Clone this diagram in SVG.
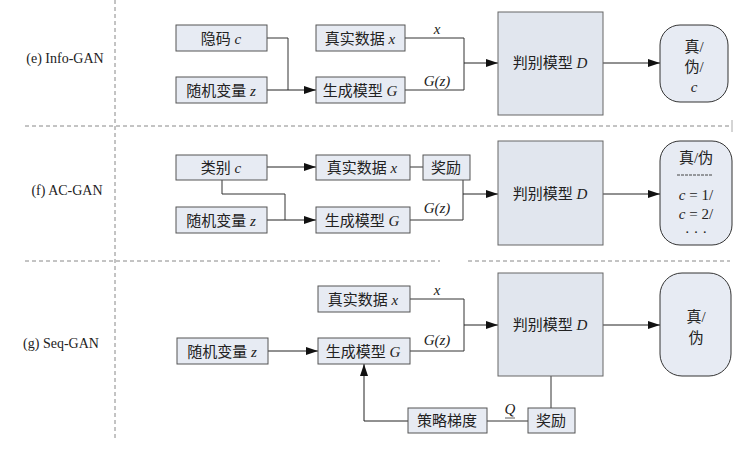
<svg xmlns="http://www.w3.org/2000/svg" width="750" height="453" viewBox="0 0 750 453">
<defs>
<marker id="arr" viewBox="0 0 12 8" refX="12" refY="4" markerWidth="12" markerHeight="8" markerUnits="userSpaceOnUse" orient="auto">
<path d="M0,0 L12,4 L0,8 Z" fill="#111"/>
</marker>
<style>
.box{fill:#e7ebf3;stroke:#555;stroke-width:1}
.dbox{fill:#e1e6ee;stroke:#666;stroke-width:1}
.out{fill:#e7ebf3;stroke:#333;stroke-width:1}
.ln{fill:none;stroke:#333;stroke-width:1}
.la{fill:none;stroke:#222;stroke-width:1;marker-end:url(#arr)}
.sep{fill:none;stroke:#888;stroke-width:1;stroke-dasharray:4 3}
text{font-family:"Liberation Serif","Times New Roman","Noto Sans CJK SC",serif;font-size:15px;fill:#222}
.lbl{font-size:14px}
.c{text-anchor:middle}
.i{font-style:italic}
</style>
</defs>

<!-- separators -->
<g id="separators">
<line class="sep" x1="115" y1="0" x2="115" y2="440"/>
<line class="sep" x1="25" y1="126" x2="730" y2="126"/>
<line x1="732" y1="120" x2="732" y2="132" stroke="#aaa" stroke-width="1"/>
<line class="sep" x1="25" y1="261" x2="440" y2="261"/>
<line class="sep" x1="468" y1="261" x2="730" y2="261"/>
</g>

<g id="labels">
<text x="65" y="63" class="c lbl">(e) Info-GAN</text>
<text x="67" y="195" class="c lbl">(f) AC-GAN</text>
<text x="61" y="348" class="c lbl">(g) Seq-GAN</text>
</g>

<!-- connectors -->
<g id="connectors">
<!-- e -->
<polyline class="ln" points="267,38 288,38 288,90"/>
<line class="la" x1="267" y1="90" x2="316" y2="90"/>
<polyline class="ln" points="405,38 464,38 464,90 405,90"/>
<line class="la" x1="464" y1="63" x2="498" y2="63"/>
<line class="la" x1="603" y1="63" x2="660" y2="63"/>
<!-- f -->
<line class="la" x1="267" y1="167" x2="316" y2="167"/>
<polyline class="ln" points="222,180 222,194 285,194 285,220"/>
<line class="la" x1="267" y1="220" x2="316" y2="220"/>
<line class="ln" x1="410" y1="167" x2="423" y2="167"/>
<polyline class="ln" points="463,180 463,220 410,220"/>
<line class="la" x1="463" y1="194" x2="498" y2="194"/>
<line class="la" x1="603" y1="194" x2="660" y2="194"/>
<!-- g -->
<line class="la" x1="268" y1="351" x2="318" y2="351"/>
<polyline class="ln" points="410,299 464,299 464,351 410,351"/>
<line class="la" x1="464" y1="325" x2="498" y2="325"/>
<line class="la" x1="603" y1="325" x2="660" y2="325"/>
<line class="ln" x1="551" y1="376" x2="551" y2="408"/>
<line class="ln" x1="528" y1="421" x2="487" y2="421"/>
<polyline class="la" points="408,421 364,421 364,364"/>
</g>

<g id="edge-labels">
<text x="437" y="34" class="c i">x</text>
<text x="437" y="86" class="c i">G(z)</text>
<text x="437" y="213" class="c i">G(z)</text>
<text x="437" y="295" class="c i">x</text>
<text x="437" y="345" class="c i">G(z)</text>
<text x="510" y="414" class="c i">Q</text>
<line x1="505" y1="418" x2="515" y2="418" stroke="#333" stroke-width="0.8"/>
</g>

<!-- (e) nodes -->
<g id="e-latent"><rect class="box" x="176" y="25" width="91" height="26"/><text x="221" y="43.5" class="c">隐码 <tspan class="i">c</tspan></text></g>
<g id="e-noise"><rect class="box" x="176" y="77" width="91" height="26"/><text x="221" y="95.5" class="c">随机变量 <tspan class="i">z</tspan></text></g>
<g id="e-real"><rect class="box" x="316" y="25" width="89" height="26"/><text x="360" y="43.5" class="c">真实数据 <tspan class="i">x</tspan></text></g>
<g id="e-gen"><rect class="box" x="316" y="77" width="89" height="26"/><text x="360" y="95.5" class="c">生成模型 <tspan class="i">G</tspan></text></g>
<g id="e-disc"><rect class="dbox" x="498" y="12" width="105" height="103"/><text x="550" y="68" class="c">判别模型 <tspan class="i">D</tspan></text></g>
<g id="e-out"><rect class="out" x="660" y="25" width="68" height="77" rx="20" ry="20"/><text x="694" y="52" class="c">真/</text><text x="694" y="72" class="c">伪/</text><text x="694" y="92" class="c i">c</text></g>

<!-- (f) nodes -->
<g id="f-class"><rect class="box" x="176" y="155" width="91" height="25"/><text x="221" y="173" class="c">类别 <tspan class="i">c</tspan></text></g>
<g id="f-noise"><rect class="box" x="176" y="207" width="91" height="26"/><text x="221" y="225.5" class="c">随机变量 <tspan class="i">z</tspan></text></g>
<g id="f-real"><rect class="box" x="316" y="155" width="94" height="25"/><text x="362" y="173" class="c">真实数据 <tspan class="i">x</tspan></text></g>
<g id="f-reward"><rect class="box" x="423" y="155" width="47" height="25"/><text x="446" y="173" class="c">奖励</text></g>
<g id="f-gen"><rect class="box" x="316" y="207" width="94" height="26"/><text x="362" y="225.5" class="c">生成模型 <tspan class="i">G</tspan></text></g>
<g id="f-disc"><rect class="dbox" x="498" y="141" width="105" height="104"/><text x="550" y="199" class="c">判别模型 <tspan class="i">D</tspan></text></g>
<g id="f-out"><rect class="out" x="660" y="141" width="72" height="104" rx="20" ry="20"/>
<text x="696" y="163" class="c">真/伪</text>
<line x1="677" y1="175" x2="713" y2="175" stroke="#444" stroke-width="1" stroke-dasharray="3 1"/>
<text x="696" y="200" class="c"><tspan class="i">c</tspan> = 1/</text>
<text x="696" y="219" class="c"><tspan class="i">c</tspan> = 2/</text>
<text x="696" y="237" class="c">· · ·</text></g>

<!-- (g) nodes -->
<g id="g-real"><rect class="box" x="318" y="286" width="92" height="26"/><text x="363" y="304.5" class="c">真实数据 <tspan class="i">x</tspan></text></g>
<g id="g-noise"><rect class="box" x="177" y="338" width="91" height="26"/><text x="222" y="356.5" class="c">随机变量 <tspan class="i">z</tspan></text></g>
<g id="g-gen"><rect class="box" x="318" y="338" width="92" height="26"/><text x="363" y="356.5" class="c">生成模型 <tspan class="i">G</tspan></text></g>
<g id="g-disc"><rect class="dbox" x="498" y="273" width="105" height="103"/><text x="550" y="330" class="c">判别模型 <tspan class="i">D</tspan></text></g>
<g id="g-out"><rect class="out" x="660" y="273" width="71" height="103" rx="22" ry="22"/><text x="696" y="322" class="c">真/</text><text x="696" y="343" class="c">伪</text></g>
<g id="g-policy"><rect class="box" x="408" y="408" width="79" height="25"/><text x="447" y="426" class="c">策略梯度</text></g>
<g id="g-reward"><rect class="box" x="528" y="408" width="47" height="25"/><text x="551" y="426" class="c">奖励</text></g>
</svg>
